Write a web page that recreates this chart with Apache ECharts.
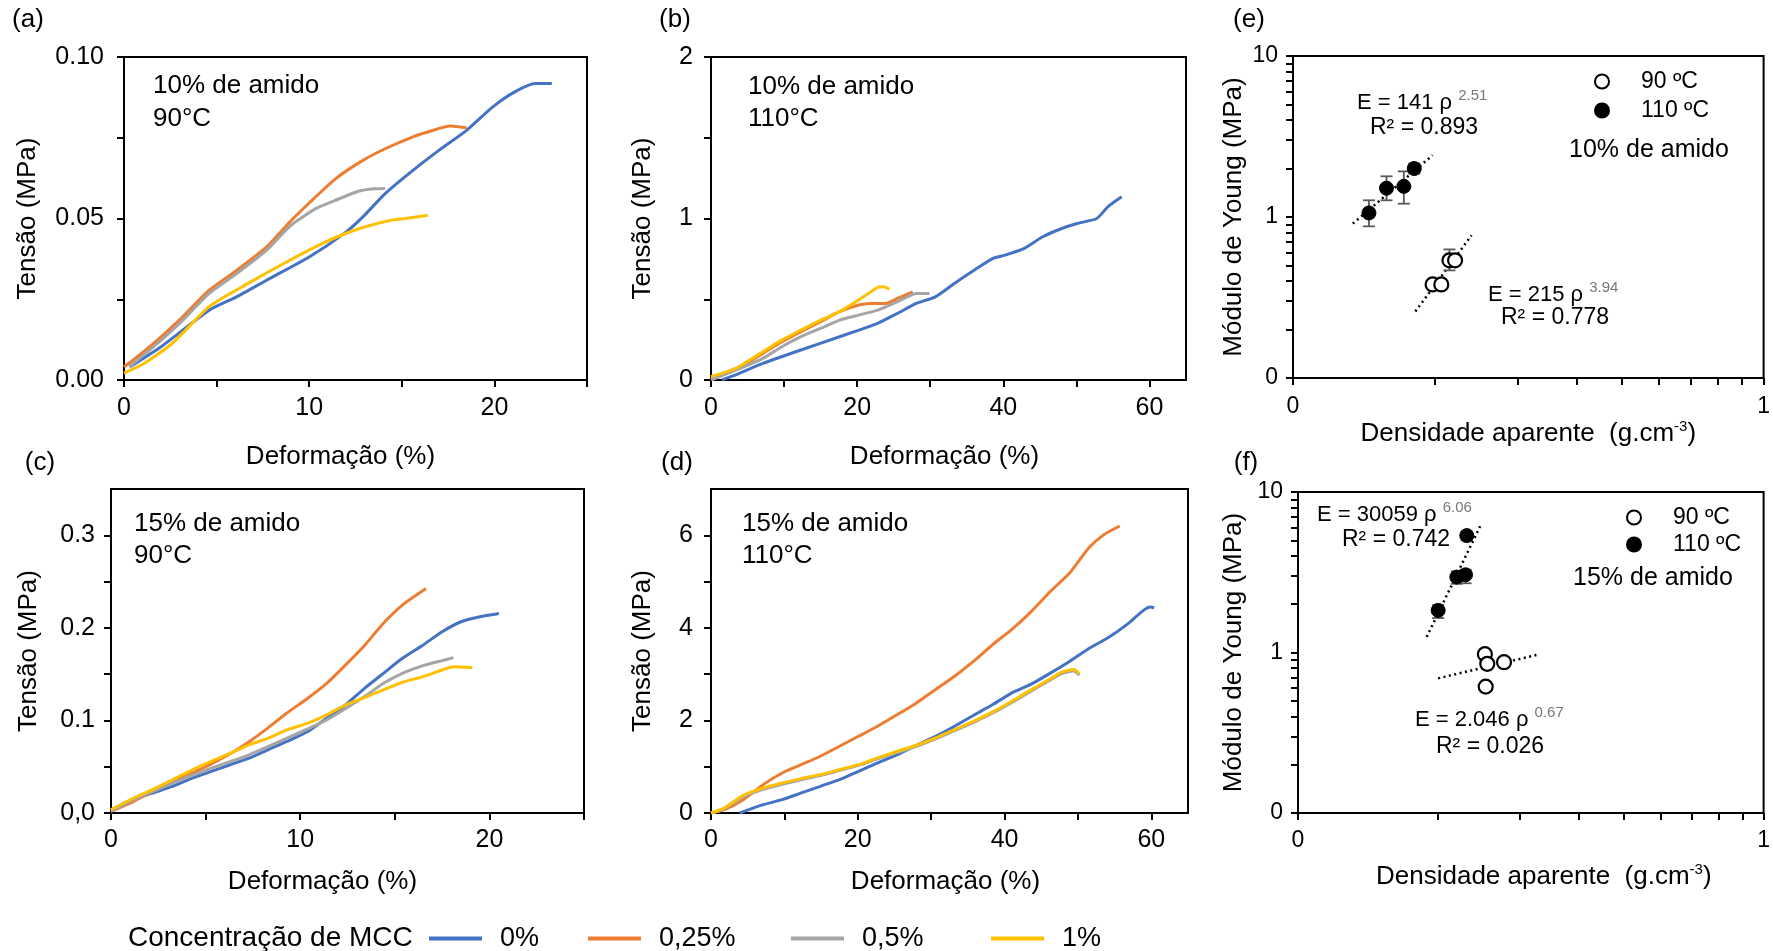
<!DOCTYPE html>
<html>
<head>
<meta charset="utf-8">
<script src="https://cdn.jsdelivr.net/npm/echarts@6/dist/echarts.min.js"></script>
<style>
  html, body { margin: 0; padding: 0; background: #fff; }
  #chart { width: 1773px; height: 951px; }
</style>
</head>
<body>
<div id="chart"></div>
<script>
// ---------- stress–strain curves: [deformação %, tensão MPa] ----------
// (a) 10% de amido, 90 °C
const a_mcc0   = [[0.3,0.004],[2.0,0.0103],[4.6,0.0216],[6.1,0.0258],[7.7,0.0309],[10.0,0.0381],[11.9,0.0454],[12.9,0.0505],[14.1,0.0577],[15.6,0.0649],[17.0,0.0711],[18.5,0.0773],[19.9,0.0845],[21.1,0.0892],[22.2,0.0918],[23.1,0.0918]];
const a_mcc025 = [[0,0.0041],[0.5,0.0062],[1.6,0.0113],[3.0,0.0186],[4.6,0.0278],[6.1,0.034],[7.7,0.0412],[9.0,0.0492],[10.0,0.0548],[11.4,0.0622],[12.9,0.068],[14.1,0.0716],[15.6,0.0753],[16.4,0.0768],[17.6,0.0786],[18.5,0.0781]];
const a_mcc05  = [[0.3,0.0041],[1.6,0.0103],[3.0,0.0175],[4.6,0.0268],[6.1,0.033],[7.7,0.0402],[9.0,0.0478],[10.4,0.0532],[11.4,0.0556],[12.7,0.0585],[13.5,0.0592],[14.1,0.0593]];
const a_mcc1   = [[0,0.0021],[1.1,0.0052],[2.6,0.0113],[4.6,0.0227],[6.7,0.0299],[8.8,0.0366],[10.8,0.0425],[11.9,0.0452],[12.9,0.0472],[14.3,0.0493],[15.2,0.05],[16.4,0.051]];

// (b) 10% de amido, 110 °C
const b_mcc0   = [[1.5,0],[3.0,0.025],[7.1,0.103],[12.3,0.186],[17.6,0.268],[22.8,0.351],[25.5,0.412],[28.1,0.474],[30.7,0.515],[33.3,0.598],[36.0,0.68],[38.6,0.753],[40.2,0.773],[42.8,0.814],[45.4,0.887],[48.0,0.938],[50.1,0.969],[52.8,1.0],[54.3,1.072],[56.2,1.134]];
const b_mcc025 = [[0,0.01],[4.5,0.093],[7.1,0.165],[9.7,0.237],[12.3,0.299],[15.0,0.361],[17.6,0.423],[20.2,0.464],[21.8,0.474],[23.9,0.474],[25.5,0.505],[27.6,0.546]];
const b_mcc05  = [[0,0],[4.5,0.082],[7.1,0.134],[9.7,0.206],[12.3,0.268],[15.0,0.32],[17.6,0.371],[20.2,0.402],[22.8,0.433],[25.5,0.485],[28.1,0.536],[29.9,0.536]];
const b_mcc1   = [[0,0.021],[3.4,0.072],[7.1,0.175],[9.7,0.247],[12.3,0.309],[15.0,0.371],[17.6,0.423],[20.2,0.495],[22.8,0.573],[23.6,0.577],[24.4,0.561]];

// (c) 15% de amido, 90 °C
const c_mcc0   = [[0,0.002],[1.2,0.0144],[2.2,0.0216],[3.25,0.0287],[4.3,0.0377],[5.3,0.0449],[6.3,0.0521],[7.3,0.0593],[8.3,0.0683],[9.3,0.0773],[10.4,0.088],[11.4,0.1024],[12.4,0.1168],[13.4,0.1347],[14.4,0.1509],[15.4,0.1671],[16.5,0.1815],[17.5,0.1958],[18.5,0.2066],[19.5,0.212],[20.5,0.2156]];
const c_mcc025 = [[0,0.0018],[1.2,0.0126],[2.2,0.0234],[3.25,0.034],[4.3,0.043],[5.3,0.053],[6.3,0.064],[7.3,0.077],[8.3,0.092],[9.3,0.108],[10.4,0.124],[11.4,0.14],[12.4,0.16],[13.4,0.181],[14.4,0.205],[15.4,0.2246],[16.65,0.2425]];
const c_mcc05  = [[0,0.002],[1.2,0.0144],[2.2,0.023],[3.25,0.0323],[5.3,0.0485],[7.3,0.0629],[9.3,0.0808],[11.4,0.1006],[13.4,0.1258],[14.4,0.1401],[15.4,0.1509],[16.5,0.1592],[17.5,0.1646],[18.1,0.1678]];
const c_mcc1   = [[0,0.0036],[1.2,0.0162],[2.2,0.0252],[3.25,0.0359],[4.3,0.0467],[5.3,0.0557],[6.3,0.0647],[7.3,0.0737],[8.3,0.0808],[9.3,0.0898],[10.4,0.097],[11.4,0.106],[12.4,0.1168],[13.4,0.1247],[14.4,0.133],[15.4,0.1412],[16.5,0.1473],[17.5,0.1545],[18.1,0.158],[19.1,0.157]];

// (d) 15% de amido, 110 °C
const d_mcc0   = [[3.9,0],[7.1,0.18],[9.7,0.288],[12.3,0.433],[14.9,0.577],[17.5,0.721],[20.1,0.901],[22.7,1.081],[25.4,1.262],[28.0,1.464],[30.6,1.658],[33.2,1.875],[35.8,2.112],[38.4,2.343],[41.0,2.596],[43.7,2.79],[46.3,3.028],[48.9,3.28],[51.5,3.554],[54.1,3.785],[56.7,4.074],[58.8,4.362],[59.9,4.448],[60.4,4.434]];
const d_mcc025 = [[0,0],[1.8,0.072],[4.4,0.288],[7.1,0.613],[9.7,0.865],[12.3,1.045],[14.9,1.226],[17.5,1.442],[20.1,1.658],[22.7,1.875],[25.4,2.127],[28.0,2.379],[30.6,2.668],[33.2,2.956],[35.8,3.28],[38.4,3.641],[41.0,3.965],[43.7,4.362],[46.3,4.795],[48.9,5.191],[51.5,5.732],[53.6,6.02],[55.7,6.2]];
const d_mcc05  = [[0,0],[1.8,0.09],[4.4,0.35],[7.1,0.51],[9.7,0.62],[12.3,0.72],[14.9,0.81],[17.5,0.92],[20.1,1.03],[22.7,1.17],[25.4,1.31],[28.0,1.44],[30.6,1.6],[33.2,1.78],[35.8,1.96],[38.4,2.16],[41.0,2.39],[43.7,2.64],[46.3,2.88],[47.8,3.01],[49.4,3.07],[50.2,2.98]];
const d_mcc1   = [[0,0],[1.8,0.108],[4.4,0.382],[7.1,0.541],[9.7,0.649],[12.3,0.743],[14.9,0.829],[17.5,0.937],[20.1,1.045],[22.7,1.19],[25.4,1.334],[28.0,1.464],[30.6,1.622],[33.2,1.802],[35.8,1.983],[38.4,2.185],[41.0,2.415],[43.7,2.668],[46.3,2.906],[47.8,3.043],[49.4,3.1],[50.2,3.014]];

// ---------- Young's modulus vs apparent density: [ρ g/cm³, E MPa] ----------
// (e) 10% de amido
const e_open90    = [[0.198,0.381],[0.2066,0.381],[0.215,0.538],[0.221,0.538]];
const e_filled110 = [[0.145,1.06],[0.158,1.51],[0.172,1.55],[0.181,2.0]];
const e_err90     = [[0.215,0.466,0.629]];                       // [ρ, low, high]
const e_err110    = [[0.145,0.875,1.27],[0.158,1.27,1.79],[0.172,1.21,1.92],[0.181,1.86,2.15]];
const e_fit90     = [[0.182,0.259],[0.2395,0.769]];              // E = 215 ρ^3.94
const e_fit110    = [[0.134,0.909],[0.198,2.42]];                // E = 141 ρ^2.51

// (f) 15% de amido
const f_open90    = [[0.252,0.976],[0.255,0.85],[0.277,0.87],[0.253,0.613]];
const f_filled110 = [[0.2,1.83],[0.2193,2.95],[0.229,3.05],[0.2304,5.35]];
const f_err110    = [[0.2,1.64,1.98],[0.2193,2.68,3.2],[0.229,2.7,3.28],[0.2304,5.0,5.69]];
const f_fit90     = [[0.2,0.69],[0.328,0.97]];                   // E = 2.046 ρ^0.67
const f_fit110    = [[0.189,1.25],[0.248,6.4]];                  // E = 30059 ρ^6.06

// ---------- ticks and tick labels ----------
const ticks0to25      = [0,5,10,15,20,25];
const labels0to25     = [0,10,20];
const ticks0to60      = [0,10,20,30,40,50,60];
const labels0to60     = [0,20,40,60];
const a_yTicks        = [0,0.025,0.05,0.075,0.1];
const a_yLabelValues  = [0,0.05,0.1];
const a_yLabelTexts   = ['0.00','0.05','0.10'];
const b_yTicks        = [0,0.5,1,1.5,2];
const b_yLabelValues  = [0,1,2];
const c_yTicks        = [0,0.05,0.1,0.15,0.2,0.25,0.3];
const c_yLabelValues  = [0,0.1,0.2,0.3];
const c_yLabelTexts   = ['0,0','0.1','0.2','0.3'];
const d_yTicks        = [0,1,2,3,4,5,6];
const d_yLabelValues  = [0,2,4,6];
const logXTicks       = [0.1,0.2,0.3,0.4,0.5,0.6,0.7,0.8,0.9,1];
const logXLabelValues = [0.1,1];
const logXLabelTexts  = ['0','1'];
const logYTicks       = [0.1,0.2,0.3,0.4,0.5,0.6,0.7,0.8,0.9,1,2,3,4,5,6,7,8,9,10];
const logYLabelValues = [0.1,1,10];
const logYLabelTexts  = ['0','1','10'];

const mccNames  = ['0%','0,25%','0,5%','1%'];
const mccColors = ['#4472C4','#ED7D31','#A5A5A5','#FFC000'];

const FONT = '"Liberation Sans", Arial, Helvetica, sans-serif';

// plot areas: (a), (b), (c), (d), (e), (f)
const grids = [
  { left: 124,  top: 57,  width: 463, height: 323 },
  { left: 711,  top: 57,  width: 475, height: 323 },
  { left: 111,  top: 489, width: 473, height: 324 },
  { left: 711,  top: 489, width: 477, height: 324 },
  { left: 1293, top: 56,  width: 473, height: 322 },
  { left: 1298, top: 492, width: 468, height: 321 }
].map(g => Object.assign({ show: true, borderColor: '#000', borderWidth: 2, backgroundColor: 'transparent' }, g));

function axis(o) {
  const texts = o.labelTexts || o.labelValues.map(String);
  const fmt = v => {
    const i = o.labelValues.findIndex(t => Math.abs(t - v) <= 1e-6 * Math.max(1, Math.abs(t)));
    return i < 0 ? '' : texts[i];
  };
  const ax = {
    type: o.type || 'value',
    gridIndex: o.grid,
    min: o.min,
    max: o.max,
    name: o.name,
    nameLocation: 'middle',
    nameGap: o.nameGap,
    nameTextStyle: Object.assign(
      { color: '#000', fontFamily: FONT, fontSize: o.nameSize || 26, padding: o.namePad || 0 },
      o.nameRich ? { rich: o.nameRich } : {}
    ),
    axisLine: { show: true, onZero: false, lineStyle: { color: '#000', width: 2 } },
    axisTick: { show: true, inside: false, length: 7, lineStyle: { color: '#000', width: 2 }, customValues: o.ticks },
    axisLabel: {
      show: true, color: '#000', fontFamily: FONT, fontSize: o.labelSize || 25, margin: o.margin,
      customValues: o.labelValues, formatter: fmt, showMinLabel: true, showMaxLabel: true, hideOverlap: false
    },
    splitLine: { show: false },
    minorTick: { show: false },
    minorSplitLine: { show: false }
  };
  if (o.interval) ax.interval = o.interval;
  if (ax.type === 'log') ax.logBase = 10;
  return ax;
}

const densRich = {
  n: { fontFamily: FONT, fontSize: 26, color: '#000', lineHeight: 30 },
  s: { fontFamily: FONT, fontSize: 15, color: '#000', verticalAlign: 'top', lineHeight: 15 }
};

const xAxes = [
  axis({ grid: 0, min: 0, max: 25, interval: 5, ticks: ticks0to25, labelValues: labels0to25, margin: 16,
         name: 'Deformação (%)', nameGap: 64, namePad: [0, 30, 0, 0] }),
  axis({ grid: 1, min: 0, max: 65, interval: 10, ticks: ticks0to60, labelValues: labels0to60, margin: 16,
         name: 'Deformação (%)', nameGap: 64, namePad: [0, 8, 0, 0] }),
  axis({ grid: 2, min: 0, max: 25, interval: 5, ticks: ticks0to25, labelValues: labels0to25, margin: 15,
         name: 'Deformação (%)', nameGap: 56, namePad: [0, 50, 0, 0] }),
  axis({ grid: 3, min: 0, max: 65, interval: 10, ticks: ticks0to60, labelValues: labels0to60, margin: 15,
         name: 'Deformação (%)', nameGap: 56, namePad: [0, 8, 0, 0] }),
  axis({ grid: 4, type: 'log', min: 0.1, max: 1, ticks: logXTicks, labelValues: logXLabelValues, labelTexts: logXLabelTexts,
         labelSize: 23, margin: 17, name: '{n|Densidade aparente  (g.cm}{s|-3}{n|)}', nameRich: densRich, nameGap: 39 }),
  axis({ grid: 5, type: 'log', min: 0.1, max: 1, ticks: logXTicks, labelValues: logXLabelValues, labelTexts: logXLabelTexts,
         labelSize: 23, margin: 16, name: '{n|Densidade aparente  (g.cm}{s|-3}{n|)}', nameRich: densRich, nameGap: 49,
         namePad: [0, 0, 0, 26] })
];

const yAxes = [
  axis({ grid: 0, min: 0, max: 0.1, interval: 0.025, ticks: a_yTicks, labelValues: a_yLabelValues, labelTexts: a_yLabelTexts,
         margin: 20, name: 'Tensão (MPa)', nameGap: 83 }),
  axis({ grid: 1, min: 0, max: 2, interval: 0.5, ticks: b_yTicks, labelValues: b_yLabelValues,
         margin: 18, name: 'Tensão (MPa)', nameGap: 55 }),
  axis({ grid: 2, min: 0, max: 0.35, interval: 0.05, ticks: c_yTicks, labelValues: c_yLabelValues, labelTexts: c_yLabelTexts,
         margin: 16, name: 'Tensão (MPa)', nameGap: 69 }),
  axis({ grid: 3, min: 0, max: 7, interval: 1, ticks: d_yTicks, labelValues: d_yLabelValues,
         margin: 18, name: 'Tensão (MPa)', nameGap: 55 }),
  axis({ grid: 4, type: 'log', min: 0.1, max: 10, ticks: logYTicks, labelValues: logYLabelValues, labelTexts: logYLabelTexts,
         labelSize: 23, margin: 15, name: 'Módulo de Young (MPa)', nameGap: 46 }),
  axis({ grid: 5, type: 'log', min: 0.1, max: 10, ticks: logYTicks, labelValues: logYLabelValues, labelTexts: logYLabelTexts,
         labelSize: 23, margin: 15, name: 'Módulo de Young (MPa)', nameGap: 51 })
];

function curve(panel, k, data) {
  return {
    type: 'line', name: mccNames[k], xAxisIndex: panel, yAxisIndex: panel, data,
    showSymbol: false, symbol: 'none', smooth: 0.2,
    lineStyle: { color: mccColors[k], width: 3 }, itemStyle: { color: mccColors[k] },
    z: 3
  };
}

function points(panel, name, data, filled) {
  return {
    type: 'scatter', name, xAxisIndex: panel, yAxisIndex: panel, data,
    symbol: 'circle', symbolSize: 14,
    itemStyle: filled ? { color: '#000', borderColor: '#000', borderWidth: 1, opacity: 1 }
                      : { color: '#fff', borderColor: '#000', borderWidth: 2.2, opacity: 1 },
    z: 6
  };
}

function fit(panel, data) {
  return {
    type: 'line', xAxisIndex: panel, yAxisIndex: panel, data,
    showSymbol: false, symbol: 'none', silent: true,
    lineStyle: { color: '#000', width: 2.5, type: [2, 3.5] }, z: 4
  };
}

function errorBars(panel, data) {
  return {
    type: 'custom', xAxisIndex: panel, yAxisIndex: panel, data, silent: true,
    encode: { x: 0, y: [1, 2] }, z: 5,
    renderItem(params, api) {
      const x = api.value(0);
      const lo = api.coord([x, api.value(1)]);
      const hi = api.coord([x, api.value(2)]);
      const w = 6;
      const style = { stroke: '#5a5a5a', lineWidth: 1.8 };
      return {
        type: 'group',
        children: [
          { type: 'line', shape: { x1: lo[0], y1: lo[1], x2: hi[0], y2: hi[1] }, style },
          { type: 'line', shape: { x1: lo[0] - w, y1: lo[1], x2: lo[0] + w, y2: lo[1] }, style },
          { type: 'line', shape: { x1: hi[0] - w, y1: hi[1], x2: hi[0] + w, y2: hi[1] }, style }
        ]
      };
    }
  };
}

const curves = [
  [a_mcc0, a_mcc025, a_mcc05, a_mcc1],
  [b_mcc0, b_mcc025, b_mcc05, b_mcc1],
  [c_mcc0, c_mcc025, c_mcc05, c_mcc1],
  [d_mcc0, d_mcc025, d_mcc05, d_mcc1]
];

const series = [];
curves.forEach((set, panel) => set.forEach((data, k) => series.push(curve(panel, k, data))));
series.push(
  fit(4, e_fit110), fit(4, e_fit90),
  errorBars(4, e_err110), errorBars(4, e_err90),
  points(4, '90 ºC', e_open90, false), points(4, '110 ºC', e_filled110, true),
  fit(5, f_fit110), fit(5, f_fit90),
  errorBars(5, f_err110),
  points(5, '90 ºC', f_open90, false), points(5, '110 ºC', f_filled110, true)
);

function txt(x, y, text, size, extra) {
  return {
    type: 'text', x, y, silent: true,
    style: Object.assign({ text, fontSize: size, fontFamily: FONT, fill: '#000', align: 'left', verticalAlign: 'middle' }, extra || {})
  };
}

// power-law equation with a raised, grey exponent
const eqRich = {
  m: { fontFamily: FONT, fontSize: 22, fill: '#000', lineHeight: 30, verticalAlign: 'middle' },
  s: { fontFamily: FONT, fontSize: 15, fill: '#777', lineHeight: 15, verticalAlign: 'top' }
};
function eq(x, y, base, exponent) {
  return {
    type: 'text', x, y, silent: true,
    style: { text: '{m|' + base + ' }{s|' + exponent + '}', rich: eqRich, align: 'left', verticalAlign: 'middle' }
  };
}

const graphic = [
  // panel letters
  txt(28, 20, '(a)', 26, { align: 'center' }),
  txt(675, 20, '(b)', 26, { align: 'center' }),
  txt(1249, 20, '(e)', 26, { align: 'center' }),
  txt(40, 463, '(c)', 26, { align: 'center' }),
  txt(677, 463, '(d)', 26, { align: 'center' }),
  txt(1246, 463, '(f)', 26, { align: 'center' }),
  // conditions
  txt(153, 86, '10% de amido', 26), txt(153, 119, '90°C', 26),
  txt(748, 87, '10% de amido', 26), txt(748, 119, '110°C', 26),
  txt(134, 524, '15% de amido', 26), txt(134, 556, '90°C', 26),
  txt(742, 524, '15% de amido', 26), txt(742, 556, '110°C', 26),
  txt(1569, 150, '10% de amido', 25),
  txt(1573, 578, '15% de amido', 25),
  // fitted power laws (e)
  eq(1357, 103, 'E = 141 ρ', '2.51'),    txt(1370, 128, 'R² = 0.893', 23),
  eq(1488, 295, 'E = 215 ρ', '3.94'),    txt(1501, 318, 'R² = 0.778', 23),
  // fitted power laws (f)
  eq(1317, 515, 'E = 30059 ρ', '6.06'),  txt(1342, 540, 'R² = 0.742', 23),
  eq(1415, 720, 'E = 2.046 ρ', '0.67'),  txt(1436, 747, 'R² = 0.026', 23),
  // bottom legend title
  txt(128, 938, 'Concentração de MCC', 28)
];

const tempLegend = (left, top, gap) => ({
  left, top, orient: 'vertical', selectedMode: false,
  itemWidth: 14, itemHeight: 14, itemGap: gap,
  data: ['90 ºC', '110 ºC'],
  itemStyle: { opacity: 1 },
  textStyle: { fontFamily: FONT, fontSize: 23, lineHeight: 23, color: '#000', padding: [0, 0, 0, 27] }
});

const mccLegend = (k, left) => ({
  left, top: 920, orient: 'horizontal', selectedMode: false,
  icon: 'rect', itemWidth: 53, itemHeight: 4,
  data: [mccNames[k]],
  textStyle: { fontFamily: FONT, fontSize: 27, color: '#000', padding: [0, 0, 0, 13] }
});

const option = {
  animation: false,
  backgroundColor: '#fff',
  grid: grids,
  xAxis: xAxes,
  yAxis: yAxes,
  series,
  graphic,
  legend: [
    mccLegend(0, 424), mccLegend(1, 583), mccLegend(2, 786), mccLegend(3, 986),
    tempLegend(1589, 65, 6),
    tempLegend(1621, 501, 4)
  ]
};

const chart = echarts.init(document.getElementById('chart'), null, { renderer: 'canvas' });
chart.setOption(option);
</script>
</body>
</html>
